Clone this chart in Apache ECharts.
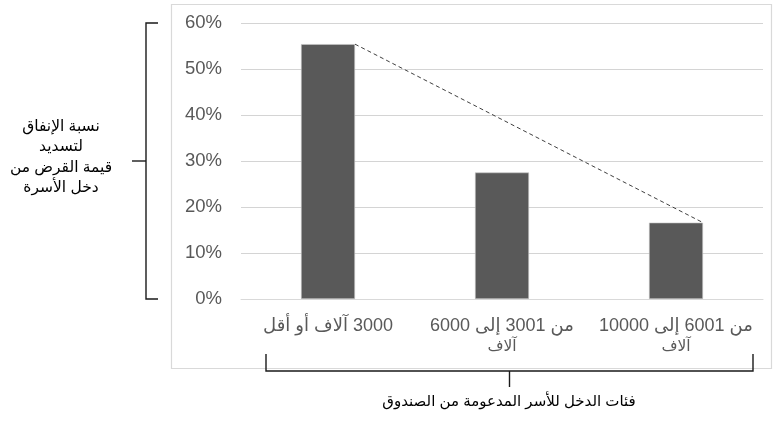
<!DOCTYPE html>
<html>
<head>
<meta charset="utf-8">
<script src="https://cdn.jsdelivr.net/npm/echarts@6/dist/echarts.min.js"></script>
<style>
  html, body { margin: 0; padding: 0; background: #fff; }
  #chart { width: 773px; height: 422px; direction: rtl; }
</style>
</head>
<body>
<div id="chart"></div>
<script>
// فئات الدخل
const categories = ['3000 آلاف أو أقل', 'من 3001 إلى 6000\nآلاف', 'من 6001 إلى 10000\nآلاف'];
// نسبة الإنفاق (%)
const shares = [55.4, 27.5, 16.6];
const yTicks = [0, 10, 20, 30, 40, 50, 60];
const yTitleLines = ['نسبة الإنفاق', 'لتسديد', 'قيمة القرض من', 'دخل الأسرة'];
const xTitle = 'فئات الدخل للأسر المدعومة من الصندوق';

const FONT = "'Liberation Sans', 'DejaVu Sans', sans-serif";
const BAR_W = 54;

const chart = echarts.init(document.getElementById('chart'));

chart.setOption({
    animation: false,
    backgroundColor: '#fff',
    textStyle: { fontFamily: FONT },
    grid: { left: 241, right: 10, top: 23, bottom: 123 },
    xAxis: {
        type: 'category',
        data: categories,
        axisTick: { show: false },
        axisLine: { lineStyle: { color: '#d9d9d9' } },
        axisLabel: {
            interval: 0,
            color: '#595959',
            margin: 17,
            fontFamily: FONT,
            // السطر الثاني بخط أصغر
            formatter: v => v.split('\n').map((s, i) => i ? `{b|${s}}` : `{a|${s}}`).join('\n'),
            rich: {
                a: { fontSize: 18, lineHeight: 21, color: '#595959', fontFamily: FONT },
                b: { fontSize: 15.5, lineHeight: 19, color: '#595959', fontFamily: FONT }
            }
        }
    },
    yAxis: {
        type: 'value',
        min: yTicks[0],
        max: yTicks[yTicks.length - 1],
        interval: 10,
        axisLine: { show: false },
        axisTick: { show: false },
        splitLine: { lineStyle: { color: '#d4d4d4', width: 1 } },
        axisLabel: {
            color: '#595959',
            fontSize: 18.5,
            margin: 19,
            fontFamily: FONT,
            formatter: v => v + '%'
        }
    },
    series: [{
        type: 'bar',
        data: shares,
        barWidth: BAR_W,
        itemStyle: { color: '#595959', borderColor: '#c8c8c8', borderWidth: 0.6 }
    }]
});

// الإطار والأقواس والخط المتقطع
function drawExtras() {
    const p = (x, y) => chart.convertToPixel({ xAxisIndex: 0, yAxisIndex: 0 }, [x, y]);
    const top = p(0, yTicks[yTicks.length - 1])[1];
    const bottom = p(0, yTicks[0])[1];
    const mid = (top + bottom) / 2;
    const a = p(0, shares[0]);
    const b = p(2, shares[2]);
    const ink = { stroke: '#1a1a1a', lineWidth: 1.4 };

    chart.setOption({
        graphic: [
            // إطار الرسم
            { type: 'rect', z: -1, shape: { x: 171.5, y: 4.5, width: 600, height: 364 },
              style: { fill: 'none', stroke: '#d9d9d9', lineWidth: 1.2 } },
            // الخط المتقطع بين أعلى العمود الأول والثالث
            { type: 'line', z: 10,
              shape: { x1: a[0] + BAR_W / 2, y1: a[1], x2: b[0] + BAR_W / 2, y2: b[1] },
              style: { stroke: '#404040', lineWidth: 1, lineDash: [4, 3] } },
            // القوس الأيسر
            { type: 'polyline', shape: { points: [[158, top], [146, top], [146, bottom], [158, bottom]] },
              style: Object.assign({ fill: 'none' }, ink) },
            { type: 'line', shape: { x1: 132, y1: mid, x2: 146, y2: mid }, style: ink },
            // القوس السفلي
            { type: 'polyline', shape: { points: [[266, 354], [266, 371], [753, 371], [753, 354]] },
              style: Object.assign({ fill: 'none' }, ink) },
            { type: 'line', shape: { x1: 509.5, y1: 371, x2: 509.5, y2: 387 }, style: ink },
            // عنوان المحور الرأسي
            { type: 'text', x: 61, y: mid - 4,
              style: { text: yTitleLines.join('\n'), fill: '#000', fontSize: 15.5, lineHeight: 20.5,
                       fontFamily: FONT, align: 'center', verticalAlign: 'middle' } },
            // عنوان المحور الأفقي
            { type: 'text', x: 509, y: 402,
              style: { text: xTitle, fill: '#000', fontSize: 15, fontFamily: FONT,
                       align: 'center', verticalAlign: 'middle' } }
        ]
    });
}

drawExtras();
</script>
</body>
</html>
